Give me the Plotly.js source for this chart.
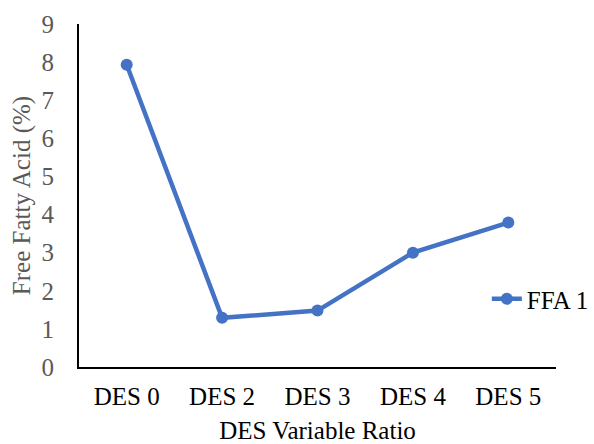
<!DOCTYPE html>
<html><head><meta charset="utf-8">
<script src="https://cdn.plot.ly/plotly-3.0.1.min.js"></script>
<style>html,body{margin:0;padding:0;background:#fff}#c{width:594px;height:444px}</style>
</head><body><div id="c"></div>
<script>
const categories = ["DES 0", "DES 2", "DES 3", "DES 4", "DES 5"];
const ffa1 = [7.93, 1.29, 1.48, 3.0, 3.79];
const yTicks = [0, 1, 2, 3, 4, 5, 6, 7, 8, 9];

const serif = "Liberation Serif, Times New Roman, serif";
Plotly.newPlot("c", [{
  x: categories, y: ffa1, type: "scatter", mode: "lines+markers", name: "FFA 1",
  line: {color: "#4472C4", width: 4.5},
  marker: {color: "#4472C4", size: 12}
}], {
  width: 594, height: 444,
  margin: {l: 79, r: 38, t: 24, b: 77, autoexpand: false},
  paper_bgcolor: "#fff", plot_bgcolor: "#fff",
  font: {family: serif, size: 25, color: "#000"},
  showlegend: true,
  legend: {x: 0.855, y: 0.198, xanchor: "left", yanchor: "middle", bgcolor: "rgba(0,0,0,0)",
           font: {family: serif, size: 25, color: "#000"}},
  xaxis: {
    type: "category", range: [-0.5, 4.5], showgrid: false, zeroline: false,
    showline: true, linecolor: "#000", linewidth: 2, ticks: "", ticklabelstandoff: 6,
    tickfont: {family: serif, size: 25, color: "#000"},
    title: {text: "DES Variable Ratio", font: {family: serif, size: 25, color: "#000"}, standoff: 12}
  },
  yaxis: {
    range: [0, 9], tickvals: yTicks, showgrid: false, zeroline: false,
    showline: true, linecolor: "#000", linewidth: 2, ticks: "", ticklabelstandoff: 18,
    tickfont: {family: serif, size: 25, color: "#595959"},
    title: {text: "Free Fatty Acid (%)", font: {family: serif, size: 25, color: "#595959"}, standoff: 4}
  }
}, {displayModeBar: false, staticPlot: true});
</script></body></html>
